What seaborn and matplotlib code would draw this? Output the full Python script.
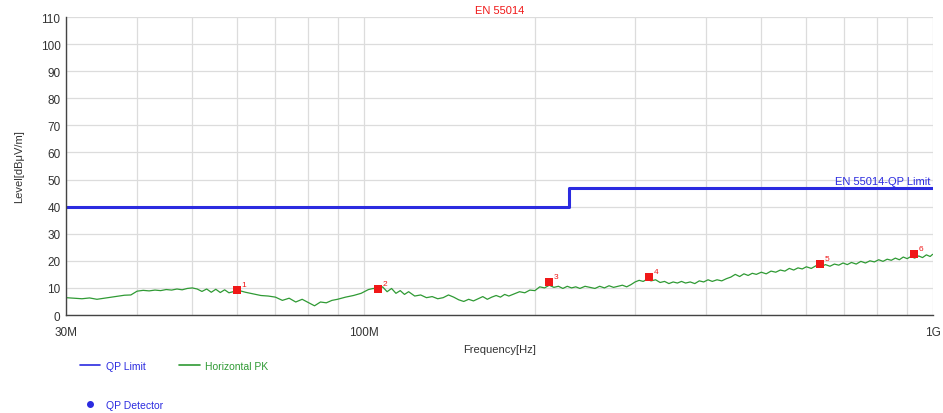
import numpy as np
import pandas as pd
import seaborn as sns
import matplotlib.pyplot as plt
from matplotlib.lines import Line2D
from matplotlib.ticker import FixedLocator, NullFormatter

# --- DATA ---
trace_freq_mhz = [
    30, 31, 32, 33, 34, 35, 36, 37, 38, 39, 40, 41, 42, 43, 44, 45, 46, 47, 48, 49,
    50, 51, 52, 53, 54, 55, 56, 57, 58, 59, 60, 62, 64, 66, 68, 70, 72, 74, 76, 78,
    80, 82, 84, 86, 88, 90, 93, 96, 99, 102, 104, 106, 108, 110, 112, 114, 116, 118,
    120, 123, 126, 129, 132, 135, 138, 141, 144, 147, 150, 153, 156, 159, 162, 165,
    168, 171, 174, 177, 180, 184, 188, 192, 196, 200, 204, 208, 212, 216, 220, 224,
    228, 232, 236, 240, 245, 250, 255, 260, 265, 270, 275, 280, 285, 290, 295, 300,
    305, 310, 315, 320, 326, 332, 338, 344, 350, 356, 362, 368, 375, 382, 389, 396,
    403, 410, 418, 426, 434, 442, 450, 458, 466, 474, 482, 490, 500, 510, 520, 530,
    540, 550, 560, 570, 580, 590, 600, 612, 624, 636, 648, 660, 672, 684, 696, 708,
    720, 734, 748, 762, 776, 790, 804, 818, 832, 846, 860, 874, 888, 902, 916, 930,
    945, 960, 975, 990, 1000,
]
trace_level = [
    6.4, 6.2, 6.0, 6.3, 5.8, 6.2, 6.6, 7.0, 7.3, 7.4, 8.8, 9.1, 8.9, 9.2, 9.0, 9.4, 9.2, 9.6, 9.3, 9.8,
    10.0, 9.6, 8.7, 9.6, 8.4, 9.5, 8.3, 9.3, 8.2, 8.6, 9.2, 8.4, 7.8, 7.2, 7.0, 6.6, 5.4, 6.2, 4.8, 5.8,
    4.6, 3.4, 4.8, 4.5, 5.4, 5.8, 6.6, 7.2, 8.0, 9.4, 9.8, 9.4, 10.4, 8.6, 9.8, 8.0, 9.0, 7.6,
    8.6, 7.0, 7.4, 6.4, 6.8, 6.0, 6.4, 7.4, 6.6, 5.6, 5.0, 5.8, 5.2, 6.0, 6.8, 5.8,
    6.6, 7.2, 6.6, 7.6, 7.0, 7.8, 8.6, 8.2, 9.2, 9.0, 10.4, 10.0, 11.0, 10.2, 10.6, 9.8,
    10.6, 10.0, 10.4, 9.8, 10.6, 10.2, 9.8, 10.6, 10.0, 10.8, 10.2, 10.6, 11.0, 10.4, 11.2, 12.2,
    12.8, 12.4, 13.2, 12.6, 13.0, 12.0, 12.4, 11.6, 12.2, 11.8, 12.4, 11.8, 12.2, 11.6, 12.6, 12.2,
    13.0, 12.4, 13.0, 12.6, 13.4, 14.0, 15.0, 14.2, 15.2, 14.6, 15.4, 15.0, 15.8, 15.2, 16.2, 15.8,
    16.6, 16.2, 17.2, 16.6, 17.4, 17.0, 17.8, 17.2, 18.2, 17.8, 18.6, 18.0, 18.8, 18.4, 19.2, 18.6,
    19.4, 18.8, 19.8, 19.2, 20.0, 19.6, 20.4, 19.8, 20.6, 20.2, 21.0, 20.4, 21.4, 20.8, 21.6, 21.0,
    21.8, 21.2, 22.2, 21.6, 22.4,
]

limit_freq_mhz = [30, 230, 1000]
limit_level = [40, 47, 47]

marker_freq_mhz = [60, 106, 212, 318, 634, 929]
marker_level = [9.3, 9.7, 12.3, 14.0, 18.9, 22.5]
marker_ids = ["1", "2", "3", "4", "5", "6"]

y_ticks = list(range(0, 111, 10))
x_minor_mhz = [40, 50, 60, 70, 80, 90, 200, 300, 400, 500, 600, 700, 800, 900]
x_major_mhz = [30, 100, 1000]
x_major_labels = ["30M", "100M", "1G"]

# --- STYLE ---
sns.set_style("whitegrid")
plt.rcParams["font.family"] = ["Liberation Sans", "DejaVu Sans"]

BLUE = "#2b2be0"
GREEN = "#2f9a34"
RED = "#f01818"
GRAY = "#444444"

trace = pd.DataFrame({"freq": trace_freq_mhz, "level": trace_level})
limit = pd.DataFrame({"freq": limit_freq_mhz, "level": limit_level})
marks = pd.DataFrame({"freq": marker_freq_mhz, "level": marker_level, "id": marker_ids})

fig = plt.figure(figsize=(9.43, 4.14), dpi=100)
ax = fig.add_axes([0.070, 0.2367, 0.919, 0.7198])

sns.lineplot(data=trace, x="freq", y="level", ax=ax, color=GREEN, linewidth=0.9,
             estimator=None, sort=False)
sns.lineplot(data=limit, x="freq", y="level", ax=ax, color=BLUE, linewidth=2.2,
             estimator=None, sort=False, drawstyle="steps-post")
sns.scatterplot(data=marks, x="freq", y="level", ax=ax, color=RED, marker="s",
                s=28, edgecolor=RED, linewidth=0, zorder=5)
for _, r in marks.iterrows():
    ax.annotate(r["id"], (r["freq"], r["level"]), xytext=(3, 3),
                textcoords="offset points", color=RED, fontsize=6)

ax.set_xscale("log")
ax.set_xlim(30, 1000)
ax.set_ylim(0, 110)
ax.set_yticks(y_ticks)
ax.xaxis.set_major_locator(FixedLocator(x_major_mhz))
ax.xaxis.set_minor_locator(FixedLocator(x_minor_mhz))
ax.xaxis.set_minor_formatter(NullFormatter())
ax.set_xticklabels(x_major_labels)

ax.grid(True, which="both", color="#dcdcdc", linewidth=0.9)
for s in ["top", "right"]:
    ax.spines[s].set_visible(False)
for s in ["left", "bottom"]:
    ax.spines[s].set_color(GRAY)
    ax.spines[s].set_linewidth(1.0)

ax.tick_params(axis="y", which="major", direction="out", length=3, color=GRAY,
               labelsize=8.5, labelcolor="#333333", pad=1)
ax.tick_params(axis="x", which="both", direction="in", length=4, color=GRAY,
               labelsize=8.5, labelcolor="#333333", pad=8)

ax.set_xlabel("Frequency[Hz]", fontsize=8, color="#333333", labelpad=4)
ax.set_ylabel("Level[dBμV/m]", fontsize=8, color="#333333", labelpad=12)
ax.set_title("EN 55014", fontsize=8, color=RED, pad=3)

ax.text(0.997, 47.8, "EN 55014-QP Limit", transform=ax.get_yaxis_transform(),
        ha="right", va="bottom", fontsize=8, color=BLUE)

handles = [
    Line2D([], [], color=BLUE, linewidth=1.2, label="QP Limit"),
    Line2D([], [], color=BLUE, marker="o", markersize=4, linestyle="none", label="QP Detector"),
    Line2D([], [], color=GREEN, linewidth=1.2, label="Horizontal PK"),
]
fig.legend(handles=handles, loc="upper left", bbox_to_anchor=(0.080, 0.136), ncol=2,
           frameon=False, fontsize=7.5, labelcolor="linecolor", handlelength=2.0,
           handletextpad=0.5, columnspacing=1.6, labelspacing=2.8, borderaxespad=0)

fig.savefig("out.png", dpi=100)
